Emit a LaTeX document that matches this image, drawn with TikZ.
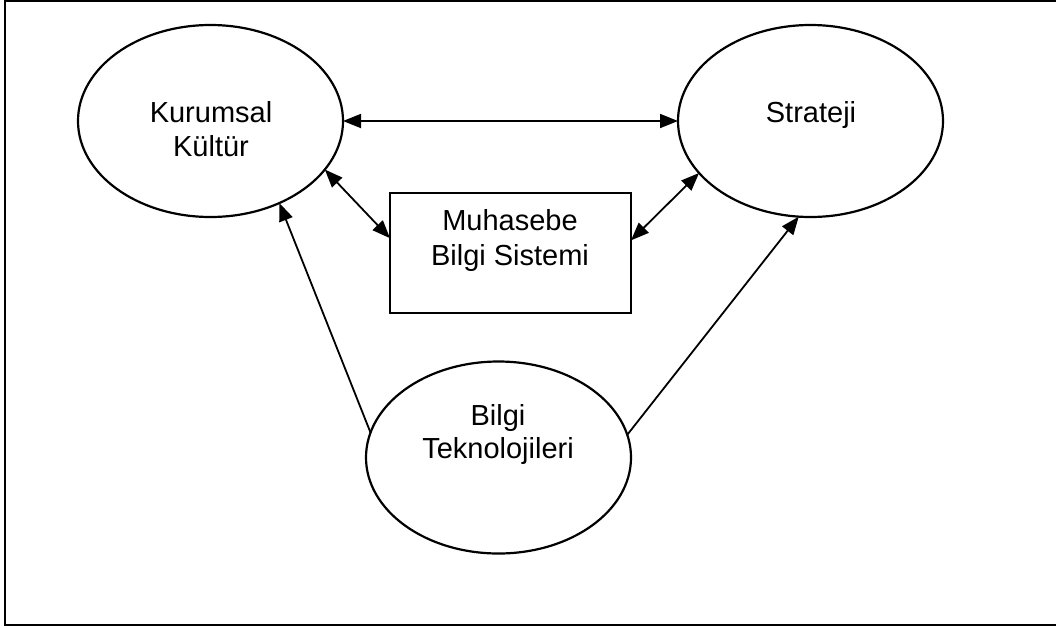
\documentclass[tikz,border=0pt]{standalone}
\usepackage{fontspec}
\setmainfont{Liberation Sans}
\usetikzlibrary{arrows.meta,shapes.geometric}
\begin{document}
\begin{tikzpicture}[x=1pt,y=-1pt,
  ell/.style={draw, ellipse, line width=2.2pt, minimum width=265pt, minimum height=192pt, inner sep=0pt, outer sep=0pt},
  boxnode/.style={draw, rectangle, line width=2.2pt, minimum width=241pt, minimum height=120pt, inner sep=0pt, outer sep=0pt},
  txt/.style={anchor=base, inner sep=0pt, font=\fontsize{29}{34.8}\selectfont},
  conn/.style={line width=1.8pt, -{Triangle[length=18pt,width=14pt]}},
  biconn/.style={line width=1.8pt, {Triangle[length=18pt,width=14pt]}-{Triangle[length=18pt,width=14pt]}},
  frame/.style={line width=2.2pt}]
\useasboundingbox (0,0) rectangle (1056,627);
\draw[frame] (1057,1) -- (5,1) -- (5,625) -- (1057,625);
\node[ell] (kk) at (210.5,121) {};
\node[ell] (st) at (810.5,121) {};
\node[ell] (bt) at (498.5,457.5) {};
\node[boxnode] (mb) at (510.5,253) {};
\node[txt] (kk1) at (211,122) {Kurumsal};
\node[txt] (kk2) at (211,156) {Kültür};
\node[txt] (st1) at (811,122) {Strateji};
\node[txt] (mb1) at (510,230) {Muhasebe};
\node[txt] (mb2) at (510,265) {Bilgi Sistemi};
\node[txt] (bt1) at (498,425) {Bilgi};
\node[txt] (bt2) at (498,458) {Teknolojileri};
\draw[biconn] (kk) -- (st);
\draw[biconn] (kk.-23.7) -- (mb.173.8);
\draw[biconn] (st.-155.7) -- (mb.6.2);
\draw[conn] (bt.169.4) -- (kk.-50.3);
\draw[conn] (bt.10.5) -- (st.-97.3);
\end{tikzpicture}
\end{document}
